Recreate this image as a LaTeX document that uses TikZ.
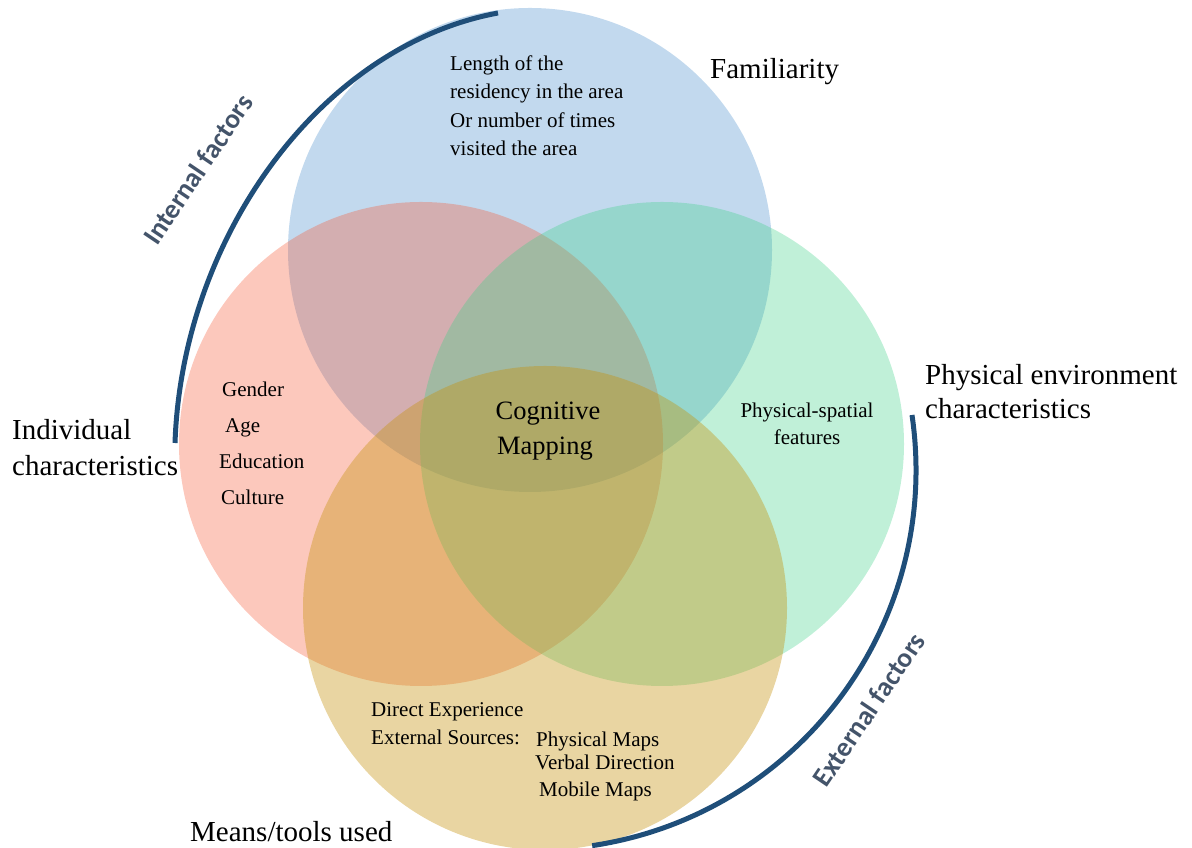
\documentclass[tikz,border=0pt]{standalone}
\usepackage{fontspec}
\setmainfont{Liberation Serif}
\newfontfamily\calib{Carlito}
\definecolor{cblue}{RGB}{70,140,203}
\definecolor{cred}{RGB}{246,88,52}
\definecolor{cgreen}{RGB}{58,208,133}
\definecolor{ctan}{RGB}{197,145,10}
\definecolor{arcblue}{RGB}{31,78,121}
\definecolor{slate}{RGB}{68,84,106}
\tikzset{
  bigtxt/.style={inner sep=0pt, anchor=west, font=\fontsize{29}{35}\selectfont, text height=0.66em, text depth=0pt},
  smalltxt/.style={inner sep=0pt, anchor=west, font=\fontsize{21}{27}\selectfont, text height=0.66em, text depth=0pt},
  centertxt/.style={inner sep=0pt, anchor=center, font=\fontsize{26.5}{32}\selectfont, text height=0.66em, text depth=0pt},
  factortxt/.style={inner sep=0pt, anchor=center, text=slate, font=\calib\bfseries\fontsize{27.5}{33}\selectfont, text height=0.66em, text depth=0pt, rotate=56},
  factorarc/.style={draw=arcblue, line width=5pt},
}
\begin{document}
\begin{tikzpicture}[x=1pt,y=1pt]
\useasboundingbox (0,0) rectangle (1192,848);
% circles
\fill[cblue, fill opacity=0.33] (530,598) circle[radius=242pt];
\fill[cred, fill opacity=0.33] (421,404) circle[radius=242pt];
\fill[cgreen, fill opacity=0.32] (662,404) circle[radius=242pt];
\fill[ctan, fill opacity=0.38] (545,240) circle[radius=242pt];
% arcs
\coordinate (ia) at (175,405);
\coordinate (ib) at (498,835);
\draw[factorarc] (ia) .. controls (182,610) and (320,802) .. (ib);
\coordinate (ea) at (912,433);
\draw[factorarc] (ea) arc[start angle=8.3, end angle=-81.5, radius=380pt];
% labels
\node[factortxt] (intf) at (203,675) {Internal factors};
\node[factortxt] (extf) at (874,135) {External factors};
\node[bigtxt] (fam) at (710,773) {Familiarity};
\node[bigtxt] (phys1) at (925,467) {Physical environment};
\node[bigtxt] (phys2) at (925,433) {characteristics};
\node[bigtxt] (ind1) at (12,412) {Individual};
\node[bigtxt] (ind2) at (12,376) {characteristics};
\node[bigtxt] (means) at (190,10) {Means/tools used};
\node[smalltxt] (f1) at (450,781) {Length of the};
\node[smalltxt] (f2) at (450,753) {residency in the area};
\node[smalltxt] (f3) at (450,724) {Or number of times};
\node[smalltxt] (f4) at (450,696) {visited the area};
\node[smalltxt] (i1) at (222,455) {Gender};
\node[smalltxt] (i2) at (225,419) {Age};
\node[smalltxt] (i3) at (219,383) {Education};
\node[smalltxt] (i4) at (221,347) {Culture};
\node[centertxt] (cm1) at (548,432) {Cognitive};
\node[centertxt] (cm2) at (545,397) {Mapping};
\node[smalltxt, anchor=center] (p1) at (807,434) {Physical-spatial};
\node[smalltxt, anchor=center] (p2) at (807,407) {features};
\node[smalltxt] (m1) at (371,135) {Direct Experience};
\node[smalltxt] (m2) at (371,107) {External Sources:};
\node[smalltxt] (m3) at (536,105) {Physical Maps};
\node[smalltxt] (m4) at (535,82) {Verbal Direction};
\node[smalltxt] (m5) at (539,55) {Mobile Maps};
\end{tikzpicture}
\end{document}
